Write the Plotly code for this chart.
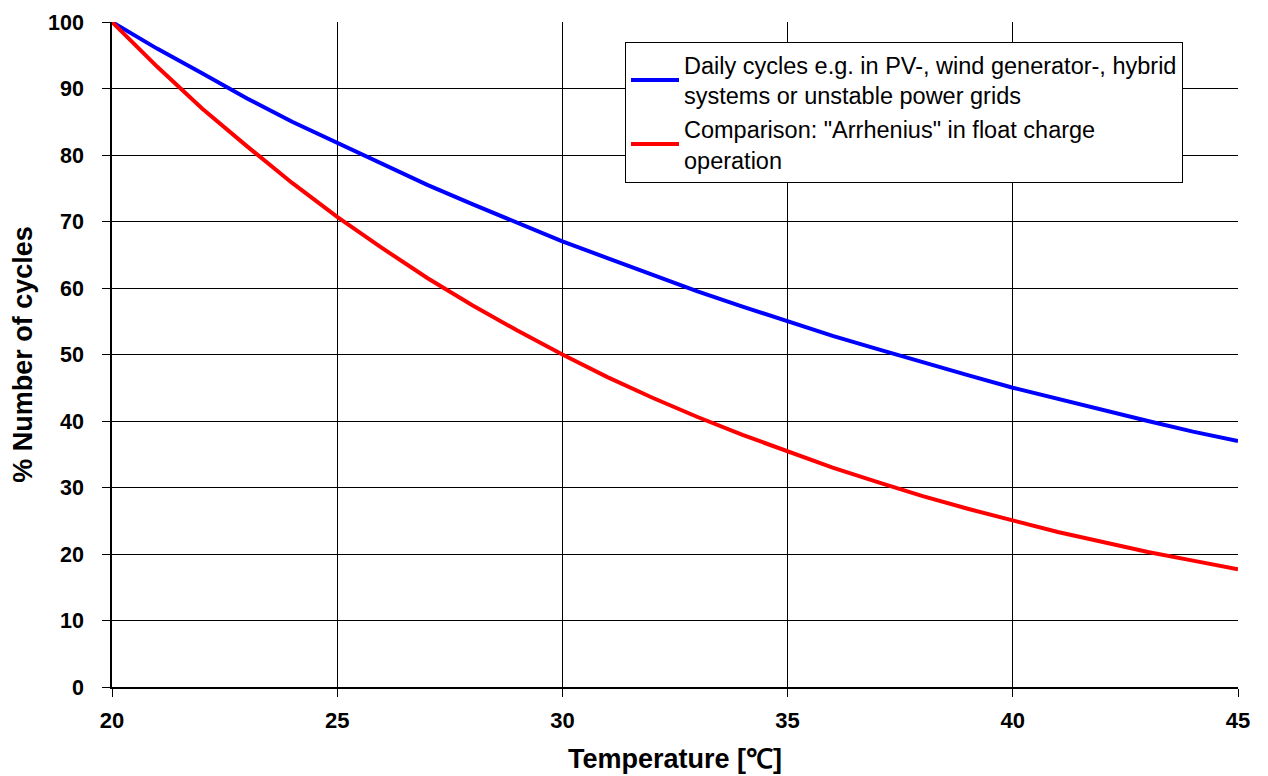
import plotly.graph_objects as go

temperature = list(range(20, 46))
daily_cycles = [100, 96.0, 92.3, 88.5, 85.0, 81.8, 78.6, 75.5, 72.6, 69.8, 67.0,
                64.5, 62.0, 59.5, 57.2, 55.0, 52.8, 50.8, 48.8, 46.9, 45.0,
                43.3, 41.6, 40.0, 38.4, 37.0]
arrhenius = [100, 93.3, 87.0, 81.3, 75.8, 70.7, 66.0, 61.5, 57.4, 53.6, 50.0,
             46.6, 43.5, 40.6, 37.9, 35.4, 33.0, 30.8, 28.7, 26.8, 25.0,
             23.3, 21.8, 20.3, 19.0, 17.7]
name_daily = "Daily cycles e.g. in PV-, wind generator-, hybrid<br>systems or unstable power grids"
name_arr = "Comparison: \"Arrhenius\" in float charge<br>operation"
x_ticks = [20, 25, 30, 35, 40, 45]
y_ticks = list(range(0, 101, 10))

FONT = "Arial, Liberation Sans, Helvetica, sans-serif"

fig = go.Figure()
fig.add_trace(go.Scatter(x=temperature, y=daily_cycles, mode="lines", name=name_daily,
                         line=dict(color="#0000FF", width=4)))
fig.add_trace(go.Scatter(x=temperature, y=arrhenius, mode="lines", name=name_arr,
                         line=dict(color="#FF0000", width=4)))

fig.update_layout(
    width=1268, height=776,
    margin=dict(l=104, r=38, t=14, b=97, autoexpand=False),
    paper_bgcolor="white", plot_bgcolor="white",
    font=dict(family=FONT, color="black"),
    legend=dict(x=0.4556, y=0.97, xanchor="left", yanchor="top",
                bgcolor="white", bordercolor="black", borderwidth=1,
                font=dict(family=FONT, size=23.5, color="black"),
                itemwidth=48, tracegroupgap=0),
    showlegend=True,
)
fig.update_xaxes(
    range=[20, 45], tickvals=x_ticks, ticktext=[str(v) for v in x_ticks],
    showgrid=True, gridcolor="black", gridwidth=1,
    showline=True, linecolor="black", linewidth=1.5,
    ticks="outside", ticklen=8, tickcolor="black",
    tickfont=dict(family=FONT, size=22, color="black", weight="bold"),
    ticklabelstandoff=5,
    zeroline=False, automargin=False,
    title=dict(text="Temperature [℃]", font=dict(family=FONT, size=27, color="black", weight="bold"), standoff=17),
)
fig.update_yaxes(
    range=[0, 100], tickvals=y_ticks, ticktext=[str(v) for v in y_ticks],
    showgrid=True, gridcolor="black", gridwidth=1,
    showline=True, linecolor="black", linewidth=1.5,
    ticks="outside", ticklen=8, tickcolor="black",
    tickfont=dict(family=FONT, size=21.5, color="black", weight="bold"),
    ticklabelstandoff=14,
    zeroline=False, automargin=False,
    title=dict(text="% Number of cycles", font=dict(family=FONT, size=27, color="black", weight="bold"), standoff=8),
)
fig.write_html("out.html")
